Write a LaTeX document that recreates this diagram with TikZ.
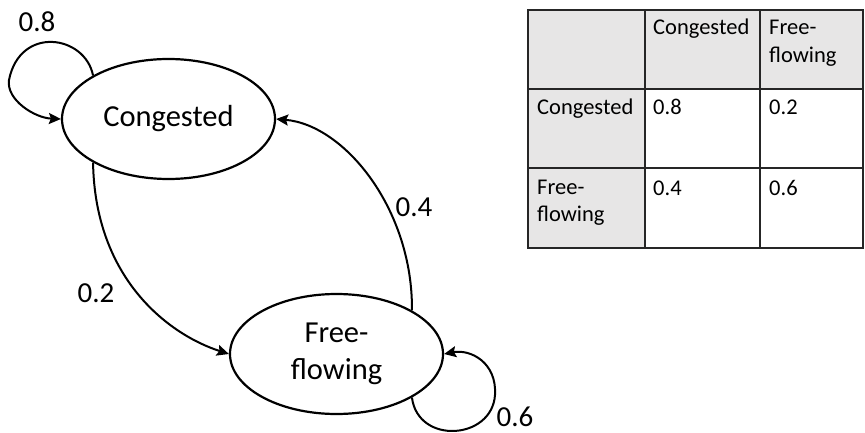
\documentclass[tikz,border=0pt]{standalone}
\usepackage{fontspec}
\setmainfont{Carlito}
\usetikzlibrary{arrows.meta,shapes.geometric}
\definecolor{cellgrey}{RGB}{231,230,230}
\begin{document}
\begin{tikzpicture}[x=1pt,y=-1pt,
  state/.style={ellipse,draw,line width=2.2pt,minimum width=213pt,minimum height=120pt,
    font=\fontsize{30.5}{37}\selectfont,align=center,inner sep=2pt},
  trans/.style={line width=2pt,-{Stealth[length=12pt,width=11pt,inset=2pt]}},
  prob/.style={font=\fontsize{29}{34}\selectfont,inner sep=0pt},
  cell/.style={anchor=base west,inner sep=0pt,font=\fontsize{22.5}{28}\selectfont,align=left},
  gridline/.style={line width=1.2pt,draw=black!85}]
\useasboundingbox (0,0) rectangle (865,433);

% states
\node[state] (c) at (168.5,119) {Congested};
\node[state] (f) at (336.5,354) {Free-\\flowing};

% self loops
\draw[trans] (c.150) .. controls (85,35) and (20,25) .. (9,80)
  .. controls (6,100) and (35,118) .. (c.west);
\draw[trans] (f.-30) .. controls (418,445) and (492,440) .. (495,395)
  .. controls (497,362) and (470,349) .. (f.east);

% transitions between states
\draw[trans] (c.210) .. controls (95,280) and (170,335) .. (f.west);
\draw[trans] (f.30) .. controls (413,210) and (345,125) .. (c.east);

% probabilities
\node[prob] (p08) at (37,22) {0.8};
\node[prob] (p06) at (515,417) {0.6};
\node[prob] (p02) at (96,293) {0.2};
\node[prob] (p04) at (414,207) {0.4};

% transition matrix
\fill[cellgrey] (528,10) rectangle (863,89);
\fill[cellgrey] (528,89) rectangle (645,248);
\draw[gridline] (528,10) rectangle (863,248);
\draw[gridline] (645,10) -- (645,248);
\draw[gridline] (760,10) -- (760,248);
\draw[gridline] (528,89) -- (863,89);
\draw[gridline] (528,168) -- (863,168);

% cell texts, placed at the baseline of their last line
\node[cell] (hc) at (653,35) {Congested};
\node[cell] (hf) at (769,63) {Free-\\flowing};
\node[cell] (rc) at (537,115) {Congested};
\node[cell] (rf) at (537,222) {Free-\\flowing};
\node[cell] (m11) at (653,115) {0.8};
\node[cell] (m12) at (769,115) {0.2};
\node[cell] (m21) at (653,195) {0.4};
\node[cell] (m22) at (769,195) {0.6};
\end{tikzpicture}
\end{document}
